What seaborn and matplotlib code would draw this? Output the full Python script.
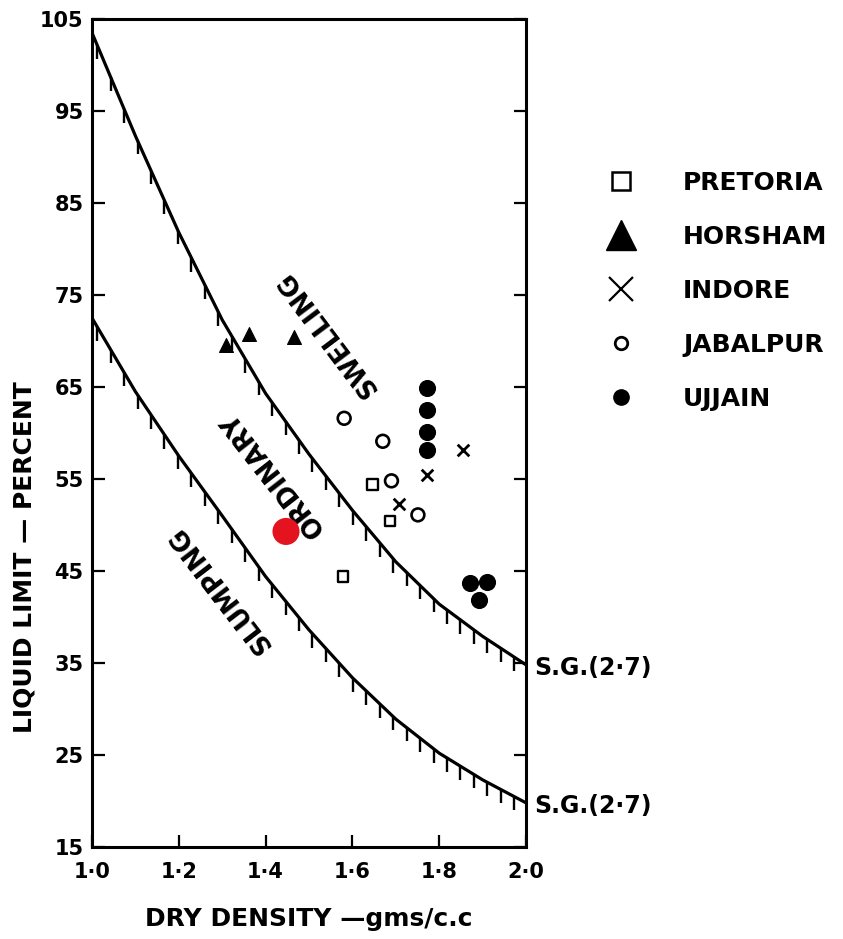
import numpy as np
import pandas as pd
import matplotlib
matplotlib.use("Agg")
import matplotlib.pyplot as plt
from matplotlib.lines import Line2D
import seaborn as sns

# Boundary curves for specific gravity 2.7 (liquid limit against dry density)
density_grid = [1.0, 1.1, 1.2, 1.3, 1.4, 1.5, 1.6, 1.7, 1.8, 1.9, 2.0]
swelling_boundary = [103.5, 92.3, 81.8, 72.3, 64.3, 57.7, 51.6, 46.0, 41.4, 37.9, 34.8]
slumping_boundary = [72.5, 64.5, 57.5, 51.0, 44.4, 38.6, 33.4, 28.9, 25.2, 22.3, 19.8]

# Soil samples by site
site_names = ["PRETORIA", "HORSHAM", "INDORE", "JABALPUR", "UJJAIN"]
pretoria_density = [1.646, 1.687, 1.579]
pretoria_ll = [54.4, 50.4, 44.4]
horsham_density = [1.308, 1.362, 1.465]
horsham_ll = [69.6, 70.8, 70.4]
indore_density = [1.855, 1.771, 1.707]
indore_ll = [58.2, 55.4, 52.3]
jabalpur_density = [1.581, 1.670, 1.690, 1.751]
jabalpur_ll = [61.6, 59.1, 54.8, 51.1]
ujjain_density = [1.771, 1.771, 1.771, 1.771, 1.870, 1.910, 1.892]
ujjain_ll = [64.9, 62.5, 60.1, 58.1, 43.7, 43.8, 41.8]
highlight_density = [1.447]
highlight_ll = [49.3]

# Axis ticks
x_ticks = [1.0, 1.2, 1.4, 1.6, 1.8, 2.0]
x_tick_labels = ["1·0", "1·2", "1·4", "1·6", "1·8", "2·0"]
y_ticks = [15, 25, 35, 45, 55, 65, 75, 85, 95, 105]

sns.set_theme(style="white")
plt.rcParams["font.family"] = ["DejaVu Sans"]
plt.rcParams["font.weight"] = "bold"
plt.rcParams["text.color"] = "black"
plt.rcParams["axes.labelcolor"] = "black"
plt.rcParams["xtick.color"] = "black"
plt.rcParams["ytick.color"] = "black"

fig = plt.figure(figsize=(8.43, 9.39), dpi=100)
ax = fig.add_axes([92 / 843, 1 - 847 / 939, 434 / 843, 828 / 939])

# Boundary curves
curves = pd.DataFrame({"density": density_grid,
                       "swelling": swelling_boundary,
                       "slumping": slumping_boundary})
for col in ["swelling", "slumping"]:
    sns.lineplot(data=curves, x="density", y=col, ax=ax, color="black",
                 lw=2.3, estimator=None, sort=True, zorder=3,
                 solid_joinstyle="round")
    # hatching on the lower side of each boundary
    hx = np.arange(1.012, 2.0, 0.031)
    hy = np.interp(hx, density_grid, curves[col])
    ax.vlines(hx, hy - 1.5, hy, color="black", lw=1.7, zorder=3)

# Sample points
sns.scatterplot(x=pretoria_density, y=pretoria_ll, ax=ax, marker="s", s=55,
                facecolor="none", edgecolor="black", linewidth=1.7, zorder=4)
sns.scatterplot(x=horsham_density, y=horsham_ll, ax=ax, marker="^", s=100,
                color="black", edgecolor="black", zorder=4)
sns.scatterplot(x=indore_density, y=indore_ll, ax=ax, marker="x", s=70,
                color="black", linewidth=2.0, zorder=4)
sns.scatterplot(x=jabalpur_density, y=jabalpur_ll, ax=ax, marker="o", s=85,
                facecolor="none", edgecolor="black", linewidth=1.9, zorder=4)
sns.scatterplot(x=ujjain_density, y=ujjain_ll, ax=ax, marker="o", s=130,
                color="black", edgecolor="black", zorder=4)
sns.scatterplot(x=highlight_density, y=highlight_ll, ax=ax, marker="o", s=380,
                color="#e3141f", edgecolor="none", zorder=5)

# Zone labels
zone_style = dict(fontsize=18.5, fontweight="bold", ha="center", va="center",
                  rotation_mode="anchor", color="black", zorder=4)
ax.text(1.542, 70.8, "SWELLING", rotation=127, **zone_style)
ax.text(1.417, 55.6, "ORDINARY", rotation=128, **zone_style)
ax.text(1.296, 43.1, "SLUMPING", rotation=127.5, **zone_style)

for end_val in [swelling_boundary[-1], slumping_boundary[-1]]:
    ax.annotate("S.G.(2·7)", xy=(2.0, end_val), xytext=(6, -2),
                textcoords="offset points", ha="left", va="center",
                fontsize=17, fontweight="bold", annotation_clip=False)

# Axes
ax.set_xlim(1.0, 2.0)
ax.set_ylim(15, 105)
ax.set_xticks(x_ticks)
ax.set_xticklabels(x_tick_labels)
ax.set_yticks(y_ticks)
ax.tick_params(axis="x", direction="in", length=9, width=1.6, pad=11,
               labelsize=15, top=False, bottom=True, colors="black")
ax.tick_params(axis="y", direction="in", length=9, width=1.6, pad=6,
               labelsize=15, left=True, right=True, colors="black")
for lab in ax.get_xticklabels() + ax.get_yticklabels():
    lab.set_fontweight("bold")
for sp in ax.spines.values():
    sp.set_visible(True)
    sp.set_color("black")
    sp.set_linewidth(2.2)
ax.grid(False)

ax.set_xlabel("DRY DENSITY —gms/c.c", fontsize=18, fontweight="bold")
ax.set_ylabel("LIQUID LIMIT — PERCENT", fontsize=18, fontweight="bold")
ax.xaxis.set_label_coords(0.5, -0.072)
ax.yaxis.set_label_coords(-0.127, 0.35)

# Legend
handles = [
    Line2D([], [], ls="none", marker="s", ms=13, mfc="none", mec="black", mew=1.8),
    Line2D([], [], ls="none", marker="^", ms=22, mfc="black", mec="black"),
    Line2D([], [], ls="none", marker="x", ms=17, mec="black", mew=1.6),
    Line2D([], [], ls="none", marker="o", ms=9, mfc="none", mec="black", mew=2.0),
    Line2D([], [], ls="none", marker="o", ms=11, mfc="black", mec="black"),
]
ax.legend(handles, site_names, loc="upper left",
          bbox_to_anchor=(608 / 843, 1 - 171 / 939), bbox_transform=fig.transFigure,
          frameon=False, handlelength=1.0, handletextpad=2.0, labelspacing=1.20,
          borderpad=0, borderaxespad=0, labelcolor="black",
          prop={"size": 18, "weight": "bold"})

fig.savefig("out.png", dpi=100)
